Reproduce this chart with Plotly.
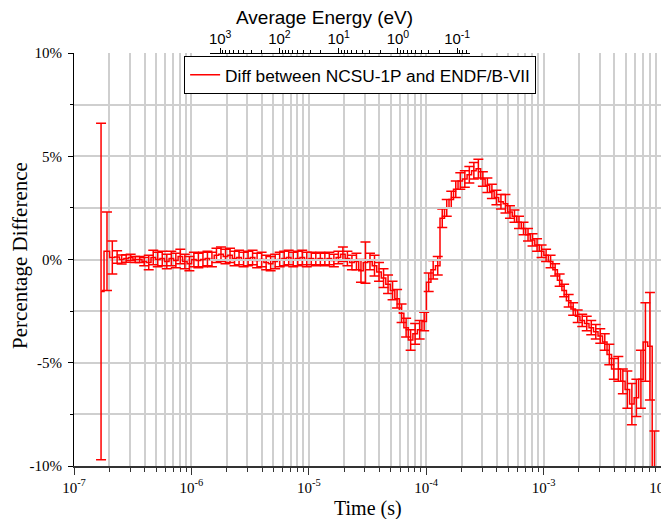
import plotly.graph_objects as go

# ---------------- data ----------------
time_s = [
    1.70e-7, 1.91e-7, 2.12e-7,
    2.330e-7, 2.546e-7, 2.782e-7, 3.039e-7, 3.320e-7, 3.628e-7, 3.964e-7, 4.331e-7, 4.732e-7,
    5.170e-7, 5.649e-7, 6.172e-7, 6.744e-7, 7.368e-7, 8.050e-7, 8.796e-7, 9.611e-7,
    1.050e-6, 1.147e-6, 1.254e-6, 1.370e-6, 1.496e-6, 1.635e-6, 1.786e-6, 1.952e-6, 2.133e-6,
    2.330e-6, 2.546e-6, 2.782e-6, 3.039e-6, 3.320e-6, 3.628e-6, 3.964e-6, 4.331e-6, 4.732e-6,
    5.170e-6, 5.649e-6, 6.172e-6, 6.744e-6, 7.368e-6, 8.050e-6, 8.796e-6, 9.611e-6,
    1.050e-5, 1.147e-5, 1.254e-5, 1.370e-5, 1.496e-5, 1.635e-5, 1.786e-5, 1.952e-5, 2.133e-5,
    2.330e-5, 2.546e-5, 2.782e-5, 3.039e-5, 3.320e-5, 3.628e-5, 3.964e-5, 4.331e-5, 4.732e-5,
    5.170e-5, 5.649e-5, 6.172e-5, 6.744e-5, 7.368e-5, 8.050e-5, 8.796e-5, 9.611e-5,
    1.050e-4, 1.147e-4, 1.254e-4, 1.370e-4, 1.496e-4, 1.635e-4, 1.786e-4, 1.952e-4, 2.133e-4,
    2.330e-4, 2.546e-4, 2.782e-4, 3.039e-4, 3.320e-4, 3.628e-4, 3.964e-4, 4.331e-4, 4.732e-4,
    5.170e-4, 5.649e-4, 6.172e-4, 6.744e-4, 7.368e-4, 8.050e-4, 8.796e-4, 9.611e-4,
    1.050e-3, 1.147e-3, 1.254e-3, 1.370e-3, 1.496e-3, 1.635e-3, 1.786e-3, 1.952e-3, 2.133e-3,
    2.330e-3, 2.546e-3, 2.782e-3, 3.039e-3, 3.320e-3, 3.628e-3, 3.964e-3, 4.331e-3, 4.732e-3,
    5.170e-3, 5.649e-3, 6.172e-3, 6.744e-3, 7.368e-3, 8.050e-3, 8.796e-3,
]

diff_pct = [
    -1.55, 0.40, 0.10,
    0.12, 0.00, 0.05, 0.10, 0.00, 0.00, -0.10,
    -0.15, 0.10, 0.00, 0.05, -0.10, 0.05, -0.05, 0.15, -0.10, -0.20,
    0.00, -0.05, 0.00, 0.05, 0.00, 0.20, 0.25, 0.15, 0.20,
    0.05, 0.10, 0.00, 0.05, 0.10, -0.05, 0.00, -0.15, -0.20, -0.10, 0.00, 0.05, 0.10, 0.00, 0.05, 0.10, 0.00,
    0.05, 0.00, 0.05, 0.00, 0.05, -0.05, 0.10, 0.25, 0.05,
    -0.15, -0.10, -0.55, -0.15, -0.10, -0.30, -0.60, -0.90, -1.20, -1.50, -1.90, -2.60, -3.30, -3.90, -3.60, -3.40, -3.00,
    -1.10, -0.50, -0.30, 2.00, 2.50, 2.90, 3.40, 3.80, 3.90,
    4.10, 4.30, 4.40, 3.90, 3.60, 3.30, 3.00, 2.80, 2.70, 2.30, 2.10, 1.80, 1.50, 1.20, 0.95, 0.70, 0.40,
    0.20, -0.10, -0.50, -1.00, -1.50, -2.00, -2.40, -2.75, -2.95,
    -3.10, -3.30, -3.50, -3.70, -4.00, -4.60, -5.30, -5.30, -5.90, -6.30, -7.00, -6.70, -5.80, -4.00, -4.20, -11.50,
]

err_pct = [
    8.15, 1.90, 0.80,
    0.30, 0.22, 0.18, 0.15, 0.15, 0.15, 0.20,
    0.35, 0.35, 0.35, 0.35, 0.35, 0.35, 0.35, 0.35, 0.35, 0.35,
    0.35, 0.35, 0.35, 0.35, 0.35, 0.35, 0.35, 0.35, 0.35,
    0.35, 0.35, 0.35, 0.35, 0.35, 0.35, 0.35, 0.35, 0.35, 0.35, 0.35, 0.35, 0.35, 0.35, 0.35, 0.35, 0.35,
    0.30, 0.30, 0.30, 0.30, 0.30, 0.30, 0.30, 0.35, 0.35,
    0.35, 0.40, 0.55, 1.00, 0.40, 0.50, 0.45, 0.45, 0.45, 0.45, 0.45, 0.45, 0.45, 0.50, 0.50, 0.45, 0.45,
    0.45, 0.45, 0.45, 0.45, 0.40, 0.40, 0.40, 0.40, 0.40,
    0.40, 0.40, 0.45, 0.35, 0.35, 0.35, 0.35, 0.35, 0.45, 0.30, 0.30, 0.30, 0.30, 0.30, 0.30, 0.30, 0.30,
    0.30, 0.30, 0.30, 0.30, 0.30, 0.30, 0.30, 0.30, 0.30,
    0.35, 0.35, 0.35, 0.35, 0.40, 0.50, 0.50, 0.60, 0.60, 0.90, 1.00, 0.90, 1.40, 1.90, 2.60, 3.20,
]

series_name = "Diff between NCSU-1P and ENDF/B-VII"

time_ticks = [1e-7, 1e-6, 1e-5, 1e-4, 1e-3, 1e-2]
time_labels = ["10<sup>-7</sup>", "10<sup>-6</sup>", "10<sup>-5</sup>",
               "10<sup>-4</sup>", "10<sup>-3</sup>", "10<sup>-2</sup>"]
energy_ticks = [1e3, 1e2, 1e1, 1e0, 1e-1]
energy_labels = ["10<sup>3</sup>", "10<sup>2</sup>", "10<sup>1</sup>",
                 "10<sup>0</sup>", "10<sup>-1</sup>"]
pct_ticks = [-10, -5, 0, 5, 10]
pct_labels = ["-10%", "-5%", "0%", "5%", "10%"]
pct_minor = [-7.5, -2.5, 2.5, 7.5]

# ---------------- style ----------------
SERIF = "Liberation Serif, Times New Roman, serif"
SANS = "Liberation Sans, Arial, sans-serif"
GRID = "#cfcfcf"

minor_time = [m * 10.0 ** e for e in range(-7, -2) for m in range(2, 10)]
minor_energy = [m * 10.0 ** e for e in range(-2, 3) for m in range(2, 10)]

fig = go.Figure()

fig.add_trace(go.Scatter(
    x=time_s, y=diff_pct, mode="lines", name=series_name,
    line=dict(color="red", width=1.5, shape="hvh"),
    error_y=dict(type="data", array=err_pct, visible=True,
                 color="red", thickness=1.5, width=5),
    hoverinfo="skip",
))
# helper traces so the extra axes are drawn
fig.add_trace(go.Scatter(x=[1e3, 1e-1], y=[0, 0], xaxis="x2", yaxis="y",
                         mode="markers", marker=dict(opacity=0),
                         showlegend=False, hoverinfo="skip"))
fig.add_trace(go.Scatter(x=[1e-6], y=[0], xaxis="x", yaxis="y2",
                         mode="markers", marker=dict(opacity=0),
                         showlegend=False, hoverinfo="skip"))

fig.update_layout(
    width=661, height=511,
    margin=dict(l=66, r=8, t=45, b=53, autoexpand=False),
    paper_bgcolor="white", plot_bgcolor="rgba(0,0,0,0)",
    showlegend=True,
    legend=dict(x=0.1876, y=0.9927, xanchor="left", yanchor="top",
                bgcolor="white", bordercolor="black", borderwidth=1,
                font=dict(family=SANS, size=17.3, color="black")),
    xaxis=dict(
        type="log", range=[-7, -2], tickmode="array",
        tickvals=time_ticks, ticktext=time_labels,
        ticks="outside", ticklen=7, tickcolor="#333", tickwidth=1,
        showline=True, linecolor="#333", linewidth=1.5,
        showgrid=True, gridcolor=GRID, gridwidth=1.5,
        zeroline=False, ticklabeloverflow="allow",
        minor=dict(tickvals=minor_time, ticks="outside", ticklen=4,
                   tickcolor="#333", showgrid=True, gridcolor=GRID, gridwidth=1.5),
        tickfont=dict(family=SERIF, size=15, color="black"),
        automargin=False,
    ),
    yaxis=dict(
        range=[-10, 10], tickmode="array", tickvals=pct_ticks, ticktext=pct_labels,
        ticks="outside", ticklen=5, tickcolor="black",
        showline=True, linecolor="black", linewidth=1,
        showgrid=True, gridcolor=GRID, gridwidth=1.5, zeroline=False,
        minor=dict(tickvals=pct_minor, ticks="outside", ticklen=3, tickcolor="black",
                   showgrid=True, gridcolor=GRID, gridwidth=1.5),
        tickfont=dict(family=SERIF, size=15, color="black"),
        ticklabelstandoff=3,
        automargin=False,
    ),
    yaxis2=dict(
        range=[-10, 10], overlaying="y", side="right", anchor="x",
        tickmode="array", tickvals=pct_ticks, showticklabels=False,
        ticks="outside", ticklen=4, tickcolor="black",
        showline=True, linecolor="black", linewidth=1,
        showgrid=False, zeroline=False,
        minor=dict(tickvals=pct_minor, ticks="outside", ticklen=3, tickcolor="black"),
    ),
    xaxis2=dict(
        type="log", range=[3.17, -1.22], domain=[0.2319, 0.675],
        anchor="free", position=1, side="top",
        tickmode="array", tickvals=energy_ticks, ticktext=energy_labels,
        ticks="outside", ticklen=5, tickcolor="black",
        showline=True, linecolor="black", linewidth=1,
        showgrid=False, zeroline=False,
        minor=dict(tickvals=minor_energy, ticks="outside", ticklen=3, tickcolor="black"),
        tickfont=dict(family=SANS, size=15, color="black"),
        ticklabelstandoff=-2,
        automargin=False,
    ),
    annotations=[
        dict(text="Average Energy (eV)", xref="paper", yref="paper",
             x=0.426, y=1.087, xanchor="center", yanchor="middle", showarrow=False,
             font=dict(family=SANS, size=19, color="black")),
        dict(text="Time (s)", xref="paper", yref="paper",
             x=0.5, y=-0.1017, xanchor="center", yanchor="middle", showarrow=False,
             font=dict(family=SERIF, size=20, color="black")),
        dict(text="Percentage Difference", xref="paper", yref="paper",
             x=-0.0921, y=0.511, xanchor="center", yanchor="middle", showarrow=False,
             textangle=-90, font=dict(family=SERIF, size=21, color="black")),
    ],
)

fig.write_html("out.html")
